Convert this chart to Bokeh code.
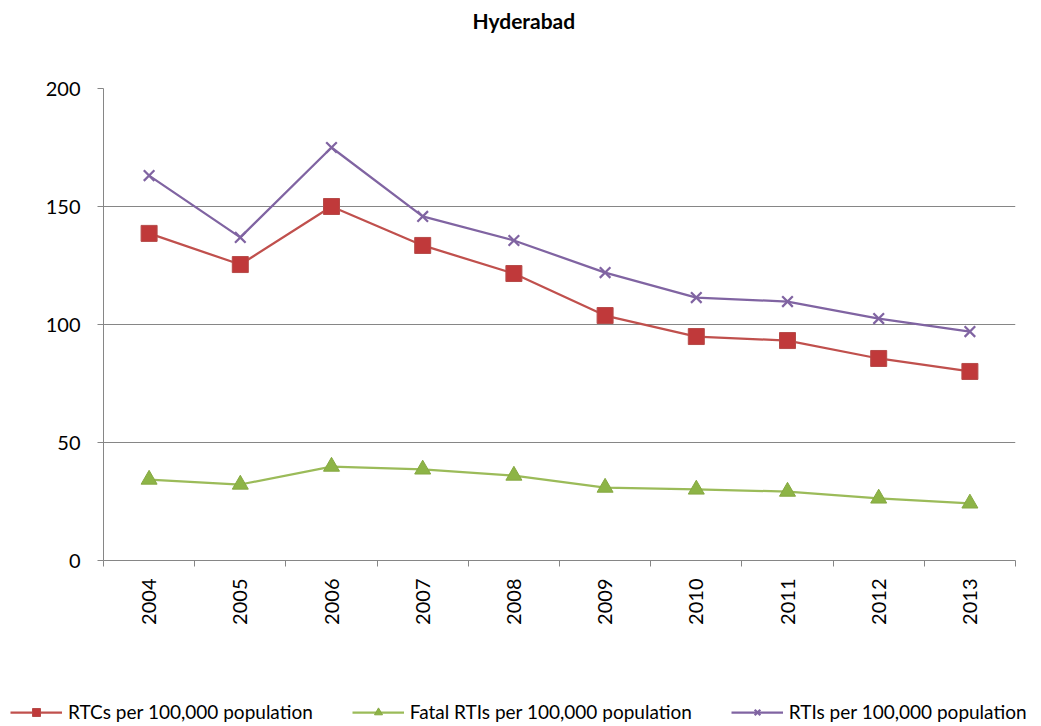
from bokeh.plotting import figure
from bokeh.models import Range1d, FixedTicker, Legend, LegendItem, ColumnDataSource, Label
from bokeh.embed import file_html
from bokeh.resources import INLINE

years = ["2004", "2005", "2006", "2007", "2008", "2009", "2010", "2011", "2012", "2013"]
rtcs = [138.6, 125.4, 150.0, 133.5, 121.6, 103.8, 94.9, 93.2, 85.6, 80.1]
fatal = [34.3, 32.2, 39.8, 38.6, 36.0, 30.9, 30.1, 29.2, 26.3, 24.2]
rtis = [163.1, 136.9, 175.0, 145.8, 135.6, 122.0, 111.4, 109.7, 102.5, 97.0]
y_ticks = [0, 50, 100, 150, 200]
series_names = ["RTCs per 100,000 population", "Fatal RTIs per 100,000 population",
                "RTIs per 100,000 population"]
chart_title = "Hyderabad"

FONT = "Lato"
GRAY = "#868686"
RED = "#C0504D"
GREEN = "#9BBB59"
PURPLE = "#8064A2"
W = 1033

n = len(years)
xs = [i + 0.5 for i in range(n)]
src = ColumnDataSource(dict(x=xs, year=years, rtcs=rtcs, fatal=fatal, rtis=rtis))

# ---- title strip
tf = figure(width=W, height=40, output_backend="svg", toolbar_location=None,
            x_axis_location=None, y_axis_location=None,
            x_range=Range1d(0, 1), y_range=Range1d(0, 1),
            min_border_left=0, min_border_right=0, min_border_top=0, min_border_bottom=0)
tf.grid.visible = False
tf.outline_line_color = None
tf.add_layout(Label(x=472, y=20, x_units="screen", y_units="screen", text=chart_title,
                    text_font=FONT, text_font_size="21px", text_font_style="bold",
                    text_align="left", text_baseline="middle", text_color="black"))

# ---- main chart
p = figure(width=W, height=640, output_backend="svg", toolbar_location=None,
           x_range=Range1d(0, n), y_range=Range1d(y_ticks[0], y_ticks[-1]),
           min_border_left=103, min_border_right=18, min_border_top=48, min_border_bottom=120)
p.outline_line_color = None
p.background_fill_color = "white"
p.border_fill_color = "white"

p.xaxis.ticker = FixedTicker(ticks=xs, minor_ticks=list(range(n + 1)))
p.xaxis.major_label_overrides = {x: y for x, y in zip(xs, years)}
p.xaxis.major_label_orientation = 3.14159265 / 2
p.xaxis.major_tick_out = 0
p.xaxis.major_tick_in = 0
p.xaxis.minor_tick_out = 6
p.xaxis.minor_tick_in = 0
p.xaxis.minor_tick_line_color = GRAY
p.xaxis.minor_tick_line_width = 1
p.xaxis.axis_line_color = GRAY
p.xaxis.axis_line_width = 1
p.xaxis.major_label_text_font = FONT
p.xaxis.major_label_text_font_size = "20px"
p.xaxis.major_label_text_color = "black"
p.xaxis.major_label_standoff = 12

p.yaxis.ticker = FixedTicker(ticks=y_ticks)
p.yaxis.minor_tick_line_color = None
p.yaxis.major_tick_out = 6
p.yaxis.major_tick_in = 0
p.yaxis.major_tick_line_color = GRAY
p.yaxis.axis_line_color = GRAY
p.yaxis.major_label_text_font = FONT
p.yaxis.major_label_text_font_size = "20px"
p.yaxis.major_label_text_color = "black"
p.yaxis.major_label_standoff = 17

p.xgrid.visible = False
p.ygrid.grid_line_color = GRAY
p.ygrid.grid_line_width = 1

cols = ["rtcs", "fatal", "rtis"]
line_kw = [dict(line_color=RED, line_width=2.25),
           dict(line_color=GREEN, line_width=2.25),
           dict(line_color=PURPLE, line_width=2.25)]
mark_kw = [dict(marker="square", size=16, fill_color="#C0393A", line_color="#B64B49", line_width=1),
           dict(marker="triangle", size=16, fill_color="#8DB446", line_color="#86A842", line_width=1),
           dict(marker="x", size=15, line_color=PURPLE, line_width=2.25)]

for col, lk, mk in zip(cols, line_kw, mark_kw):
    p.line("x", col, source=src, **lk)
    p.scatter("x", col, source=src, **mk)

# ---- legend strip (same series styles; data lies outside this strip's ranges)
lf = figure(width=W, height=44, output_backend="svg", toolbar_location=None,
            x_axis_location=None, y_axis_location=None,
            x_range=Range1d(-100, -99), y_range=Range1d(-100, -99),
            min_border_left=0, min_border_right=0, min_border_top=0, min_border_bottom=0)
lf.grid.visible = False
lf.outline_line_color = None
items = []
for name, col, lk, mk in zip(series_names, cols, line_kw, mark_kw):
    rl = lf.line("x", col, source=src, **lk)
    rm = lf.scatter("x", col, source=src, **mk)
    items.append(LegendItem(label=name, renderers=[rl, rm]))

legend = Legend(items=items, orientation="horizontal", location=(10, 1))
legend.padding = 0
legend.margin = 0
legend.border_line_color = None
legend.background_fill_alpha = 0
legend.glyph_width = 52
legend.glyph_height = 20
legend.label_standoff = 6
legend.spacing = 39
legend.label_text_font = FONT
legend.label_text_font_size = "19px"
legend.label_text_color = "black"
lf.add_layout(legend, "center")

open("out.html", "w").write(file_html([tf, p, lf], INLINE))
